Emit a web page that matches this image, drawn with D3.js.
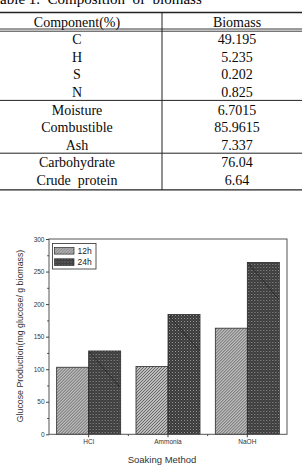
<!DOCTYPE html>
<html>
<head>
<meta charset="utf-8">
<script src="https://cdn.jsdelivr.net/npm/d3@7"></script>
<style>
  body { margin: 0; background: #fff; }
  svg { display: block; }
</style>
</head>
<body>
<div id="chart"></div>
<script>
// table data
var tableTitle = "Table 1.  Composition  of  biomass";
var tableHeader = ["Component(%)", "Biomass"];
var tableLabels = ["C", "H", "S", "N", "Moisture", "Combustible", "Ash", "Carbohydrate", "Crude  protein"];
var tableValues = ["49.195", "5.235", "0.202", "0.825", "6.7015", "85.9615", "7.337", "76.04", "6.64"];
var tableGroups = [4, 3, 2]; // rows per block

// chart data
var categories = ["HCl", "Ammonia", "NaOH"];
var seriesNames = ["12h", "24h"];
var values12h = [103, 104, 163];
var values24h = [128, 184, 264];
var yTicks = [0, 50, 100, 150, 200, 250, 300];

var W = 302, H = 467;
var svg = d3.select("#chart").append("svg").attr("width", W).attr("height", H);

// ---------- table ----------
var serif = "'Liberation Serif', 'DejaVu Serif', serif";
var rowStep = 17.6, headerY = 21.7, colX = [77, 237], divX = 162;

svg.append("text").attr("x", -8).attr("y", 4)
  .attr("font-family", serif).attr("font-size", 15).attr("fill", "#000")
  .attr("xml:space", "preserve").text(tableTitle);

var tbl = svg.append("g").attr("font-family", serif).attr("font-size", 14)
  .attr("fill", "#0a0a0a").attr("text-anchor", "middle");

tbl.selectAll(".hd").data(tableHeader).enter().append("text")
  .attr("x", function(d, i) { return colX[i]; })
  .attr("y", headerY + 4.8).text(function(d) { return d; });

tableLabels.forEach(function(lab, i) {
  var cy = headerY + rowStep * (i + 1);
  tbl.append("text").attr("x", colX[0]).attr("y", cy + 4.8).attr("xml:space", "preserve").text(lab);
  tbl.append("text").attr("x", colX[1]).attr("y", cy + 4.8).text(tableValues[i]);
});

function hline(y, w) {
  svg.append("line").attr("x1", 0).attr("x2", W).attr("y1", y).attr("y2", y)
    .attr("stroke", "#222").attr("stroke-width", w);
}
hline(12.5, 1.4);
hline(29, 0.9);
hline(31.2, 0.9);
var acc = 0, lastY = 0;
tableGroups.forEach(function(n, gi) {
  acc += n;
  var last = gi === tableGroups.length - 1;
  lastY = headerY + rowStep * (acc + 0.5) + (last ? 1 : -0.5);
  hline(lastY, last ? 1.3 : 1);
});
svg.append("line").attr("x1", divX).attr("x2", divX).attr("y1", 12.5)
  .attr("y2", lastY).attr("stroke", "#222").attr("stroke-width", 1);

// ---------- chart ----------
var sans = "Arial, 'Liberation Sans', sans-serif";
var plot = {left: 49, right: 287, top: 239, bottom: 434.3};

var defs = svg.append("defs");
var p1 = defs.append("pattern").attr("id", "hatch12").attr("patternUnits", "userSpaceOnUse")
  .attr("width", 3).attr("height", 3);
p1.append("rect").attr("width", 3).attr("height", 3).attr("fill", "#bdbdbd");
p1.append("path").attr("d", "M-1,1 l2,-2 M0,3 l3,-3 M2,4 l2,-2")
  .attr("stroke", "#5e5e5e").attr("stroke-width", 0.9);

var p2 = defs.append("pattern").attr("id", "check24").attr("patternUnits", "userSpaceOnUse")
  .attr("width", 3).attr("height", 3);
p2.append("rect").attr("width", 3).attr("height", 3).attr("fill", "#3a3a3a");
p2.append("rect").attr("width", 1).attr("height", 1).attr("fill", "#9a9a9a");
p2.append("rect").attr("x", 1.5).attr("y", 1.5).attr("width", 1).attr("height", 1).attr("fill", "#6c6c6c");
var fills = ["url(#hatch12)", "url(#check24)"];

var x = d3.scaleBand().domain(categories).range([plot.left, plot.right])
  .paddingInner(0.193).paddingOuter(0.0965);
var xs = d3.scaleBand().domain(seriesNames).range([0, x.bandwidth()]).padding(0);
var y = d3.scaleLinear().domain([0, 300]).range([plot.bottom, plot.top]);

var data = categories.map(function(c, i) {
  return {cat: c, vals: [values12h[i], values24h[i]]};
});

var groups = svg.selectAll(".grp").data(data).enter().append("g")
  .attr("transform", function(d) { return "translate(" + x(d.cat) + ",0)"; });
groups.selectAll("rect").data(function(d) {
  return d.vals.map(function(v, j) { return {s: seriesNames[j], v: v, j: j}; });
}).enter().append("rect")
  .attr("x", function(d) { return xs(d.s); })
  .attr("y", function(d) { return y(d.v); })
  .attr("width", xs.bandwidth())
  .attr("height", function(d) { return y(0) - y(d.v); })
  .attr("fill", function(d) { return fills[d.j]; })
  .attr("stroke", "#2a2a2a").attr("stroke-width", 0.8);

// faint scan streak in the 24h bars
groups.append("line")
  .attr("x1", function(d) { return xs("24h") + 1; })
  .attr("y1", function(d) { return y(d.vals[1]) + 1; })
  .attr("x2", function(d) { return xs("24h") + xs.bandwidth() - 1; })
  .attr("y2", function(d) { return y(d.vals[1]) + 36; })
  .attr("stroke", "#1a1a1a").attr("stroke-width", 0.8).attr("opacity", 0.7);

// frame
svg.append("rect").attr("x", plot.left).attr("y", plot.top)
  .attr("width", plot.right - plot.left).attr("height", plot.bottom - plot.top)
  .attr("fill", "none").attr("stroke", "#555").attr("stroke-width", 1);

// y axis
var yAxis = svg.append("g").attr("transform", "translate(" + plot.left + ",0)")
  .call(d3.axisLeft(y).tickValues(yTicks).tickSize(3).tickPadding(1.5));
yAxis.select(".domain").remove();
yAxis.selectAll("line").attr("stroke", "#444");
yAxis.selectAll("text").attr("font-family", sans).attr("font-size", 6.5).attr("fill", "#333");
svg.append("g").attr("transform", "translate(" + plot.left + ",0)")
  .call(d3.axisLeft(y).tickValues(d3.range(25, 300, 50)).tickSize(1.8).tickFormat(""))
  .call(function(g) { g.select(".domain").remove(); g.selectAll("line").attr("stroke", "#444"); });

// x axis
var xAxis = svg.append("g").attr("transform", "translate(0," + plot.bottom + ")")
  .call(d3.axisBottom(x).tickSize(3).tickPadding(2));
xAxis.select(".domain").remove();
xAxis.selectAll("line").attr("stroke", "#444");
xAxis.selectAll("text").attr("font-family", sans).attr("font-size", 6.5).attr("fill", "#333");
var mids = categories.slice(1).map(function(c) { return x(c) - x.step() * x.paddingInner() / 2; });
svg.append("g").selectAll("line").data(mids).enter().append("line")
  .attr("x1", function(d) { return d; }).attr("x2", function(d) { return d; })
  .attr("y1", plot.bottom).attr("y2", plot.bottom + 1.8).attr("stroke", "#444");

// axis titles
svg.append("text").attr("x", (plot.left + plot.right) / 2 - 6).attr("y", 463)
  .attr("text-anchor", "middle").attr("font-family", sans).attr("font-size", 9.5)
  .attr("fill", "#333").text("Soaking Method");
svg.append("text").attr("transform", "translate(23,336) rotate(-90)")
  .attr("text-anchor", "middle").attr("font-family", sans).attr("font-size", 8.8)
  .attr("fill", "#333").text("Glucose Production(mg glucose/ g biomass)");

// legend
var leg = svg.append("g").attr("transform", "translate(52.5,243.5)");
leg.append("rect").attr("width", 43.5).attr("height", 25.5)
  .attr("fill", "#fff").attr("stroke", "#444").attr("stroke-width", 0.9);
seriesNames.forEach(function(s, i) {
  leg.append("rect").attr("x", 2).attr("y", 4 + i * 11.3).attr("width", 19.5).attr("height", 6.6)
    .attr("fill", fills[i]).attr("stroke", "#2a2a2a").attr("stroke-width", 0.7);
  leg.append("text").attr("x", 25).attr("y", 10.3 + i * 11.3)
    .attr("font-family", sans).attr("font-size", 8.5).attr("fill", "#222").text(s);
});
</script>
</body>
</html>
